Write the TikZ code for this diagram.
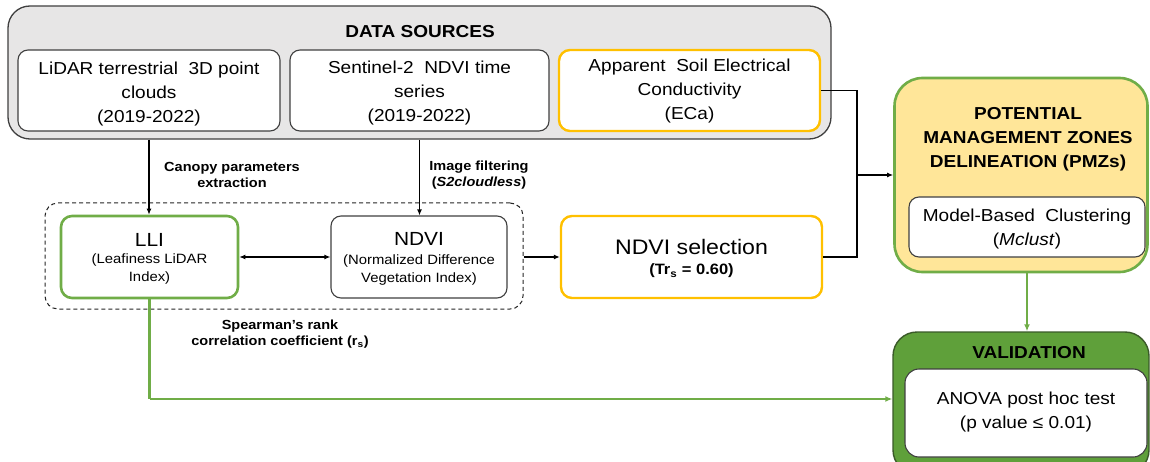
\documentclass[tikz,border=0pt]{standalone}
\usepackage{fontspec}
\setmainfont{Liberation Sans}[FakeStretch=1.1]
\usetikzlibrary{arrows.meta}
\definecolor{grayfill}{HTML}{E7E6E6}
\definecolor{edgegray}{HTML}{404040}
\definecolor{orng}{HTML}{FFC000}
\definecolor{grn}{HTML}{70AD47}
\definecolor{pmzfill}{HTML}{FFE699}
\definecolor{valfill}{HTML}{5FA03A}
\definecolor{valedge}{HTML}{3A5A28}
\newcommand{\fsMain}{\fontsize{17.3}{24}\selectfont}
\newcommand{\fsLab}{\fontsize{13.2}{16.5}\selectfont\bfseries}
\newcommand{\fsSub}{\fontsize{13.5}{18}\selectfont}
\newcommand{\fsBig}{\fontsize{19}{22}\selectfont}
\tikzset{
  whitebox/.style={draw=edgegray, line width=1.1pt, fill=white, rounded corners=10pt, inner sep=0pt},
  orangebox/.style={draw=orng, line width=2.4pt, fill=white, rounded corners=11pt, inner sep=0pt},
  greenbox/.style={draw=grn, line width=2.6pt, fill=white, rounded corners=11pt, inner sep=0pt},
  txt/.style={inner sep=0pt, align=center},
  conn/.style={draw=black, line width=1.3pt, -{Latex[length=6pt,width=5pt]}},
  link/.style={draw=black, line width=1.3pt},
  gconn/.style={draw=grn, line width=2.5pt, -{Latex[length=7pt,width=6pt]}},
}
\begin{document}
\begin{tikzpicture}[x=1pt,y=-1pt]
\useasboundingbox (0,0) rectangle (1150,462);
\fill[white] (0,0) rectangle (1150,462);

% Data sources container
\node[draw=edgegray, line width=1.3pt, fill=grayfill, rounded corners=22pt, minimum width=823pt, minimum height=133pt, inner sep=0pt] (outer) at (419.5,72.5) {};
\node[txt, font=\fsMain\bfseries] (title) at (420,31.5) {DATA SOURCES};

\node[whitebox, minimum width=262pt, minimum height=81pt] (lidar) at (149,90.5) {};
\node[txt, font=\fsMain] (lidarT) at (149,94.5) {LiDAR terrestrial \ 3D point\\clouds\\(2019-2022)};
\node[whitebox, minimum width=259pt, minimum height=81pt] (senti) at (419.5,90.5) {};
\node[txt, font=\fsMain] (sentiT) at (419.5,93.5) {Sentinel-2 \ NDVI time\\series\\(2019-2022)};
\node[orangebox, minimum width=261pt, minimum height=81pt] (eca) at (689.5,90.5) {};
\node[txt, font=\fsMain] (ecaT) at (689.5,91.5) {Apparent \ Soil Electrical\\Conductivity\\(ECa)};

% Dashed group
\node[draw=black!85, line width=1pt, dash pattern=on 4pt off 3pt, rounded corners=13pt, minimum width=478pt, minimum height=106pt, inner sep=0pt] (grp) at (284,256) {};

\node[greenbox, minimum width=177pt, minimum height=82pt] (lli) at (149.5,257) {};
\node[txt, font=\fsBig] (lliT) at (149.5,240) {LLI};
\node[txt, font=\fsSub] (lliS) at (149.5,269) {(Leafiness LiDAR\\Index)};

\node[whitebox, minimum width=176pt, minimum height=82pt] (ndvi) at (419,257) {};
\node[txt, font=\fsBig] (ndviT) at (419,238.5) {NDVI};
\node[txt, font=\fsSub] (ndviS) at (419,270) {(Normalized Difference\\Vegetation Index)};

\node[orangebox, minimum width=261pt, minimum height=82pt] (sel) at (691.5,257) {};
\node[txt, font=\fontsize{21}{24}\selectfont] (selT) at (691.5,247) {NDVI selection};
\node[txt, font=\fontsize{15}{18}\selectfont\bfseries] (selS) at (691.5,271) {(Tr\textsubscript{s} = 0.60)};

% PMZ
\node[draw=grn, line width=2.6pt, fill=pmzfill, rounded corners=28pt, minimum width=253pt, minimum height=194pt, inner sep=0pt] (pmz) at (1021,175) {};
\node[txt, font=\fsMain\bfseries] (pmzT) at (1028,139.5) {POTENTIAL\\MANAGEMENT ZONES\\DELINEATION (PMZs)};
\node[whitebox, minimum width=236pt, minimum height=60pt] (mcl) at (1027,227) {};
\node[txt, font=\fsMain] (mclT) at (1027,229.5) {Model-Based \ Clustering\\(\textit{Mclust})};

% Validation
\node[draw=valedge, line width=1.4pt, fill=valfill, rounded corners=24pt, minimum width=256pt, minimum height=142pt, inner sep=0pt] (val) at (1021,403) {};
\node[txt, font=\fsMain\bfseries] (valT) at (1029,353) {VALIDATION};
\node[whitebox, rounded corners=14pt, minimum width=242pt, minimum height=88pt] (anova) at (1026,413) {};
\node[txt, font=\fsMain] (anovaT) at (1026,412) {ANOVA post hoc test\\(p value ≤ 0.01)};

% Labels
\node[txt, font=\fsLab] (lab1) at (232,175) {Canopy parameters\\extraction};
\node[txt, font=\fsLab] (lab2) at (479,175) {Image filtering\\(\textit{S2cloudless})};
\node[txt, font=\fsLab] (lab3) at (280,334) {Spearman's rank\\correlation coefficient (r\textsubscript{s})};

% Connectors
\draw[conn] (lidar.south |- outer.south) -- (lidar.south |- lli.north);
\draw[conn] (senti.south |- outer.south) -- (senti.south |- ndvi.north);
\draw[link, {Latex[length=6pt,width=5pt]}-{Latex[length=6pt,width=5pt]}] (lli.east) -- (ndvi.west);
\draw[conn] (grp.east |- sel.west) -- (sel.west);

\coordinate (jx) at (857,175);
\draw[link] (eca.east) -| (jx);
\draw[link] (sel.east) -| (jx);
\draw[conn] (jx) -- (pmz.west |- jx);

\draw[gconn] (mcl.south |- pmz.south) -- (mcl.south |- val.north);

\coordinate (gy) at (0,399);
\draw[draw=grn, line width=2.5pt] (lli.south) -- (lli.south |- gy);
\draw[gconn] (lli.south |- gy) -- (val.west |- gy);
\end{tikzpicture}
\end{document}
